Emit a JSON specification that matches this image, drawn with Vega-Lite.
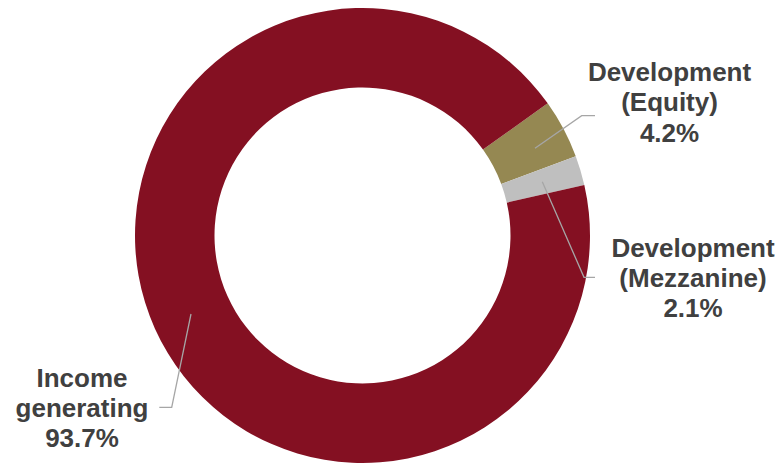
{
  "$schema": "https://vega.github.io/schema/vega-lite/v6.json",
  "width": 780,
  "height": 464,
  "padding": 0,
  "autosize": {"type": "fit", "contains": "padding"},
  "background": "white",
  "config": {"view": {"stroke": null}},
  "datasets": {
    "slices": [
      {"segment": "Development (Equity)", "share": 4.2, "o": 1},
      {"segment": "Development (Mezzanine)", "share": 2.1, "o": 2},
      {"segment": "Income generating", "share": 93.7, "o": 3}
    ],
    "leaders": [
      {"segment": "Equity", "step": 1, "lx": 172.5, "ly": 87.2},
      {"segment": "Equity", "step": 2, "lx": 219.2, "ly": 119.8},
      {"segment": "Equity", "step": 3, "lx": 232.5, "ly": 119.8},
      {"segment": "Mezzanine", "step": 1, "lx": 179.8, "ly": 53.8},
      {"segment": "Mezzanine", "step": 2, "lx": 221.5, "ly": -41.8},
      {"segment": "Mezzanine", "step": 3, "lx": 232.5, "ly": -41.8},
      {"segment": "Income", "step": 1, "lx": -171.5, "ly": -78.5},
      {"segment": "Income", "step": 2, "lx": -190.8, "ly": -171.8},
      {"segment": "Income", "step": 3, "lx": -203.2, "ly": -171.8}
    ],
    "labels": [
      {"line": "Development", "tx": 307, "ty": 154.8},
      {"line": "(Equity)", "tx": 307, "ty": 124.3},
      {"line": "4.2%", "tx": 307, "ty": 93.8},
      {"line": "Development", "tx": 330.5, "ty": -21.2},
      {"line": "(Mezzanine)", "tx": 330.5, "ty": -51.2},
      {"line": "2.1%", "tx": 330.5, "ty": -81.2},
      {"line": "Income", "tx": -280.5, "ty": -151.2},
      {"line": "generating", "tx": -280.5, "ty": -181.2},
      {"line": "93.7%", "tx": -280.5, "ty": -211.2}
    ]
  },
  "layer": [
    {
      "data": {"name": "slices"},
      "mark": {"type": "arc", "outerRadius": 227.5, "innerRadius": 148},
      "encoding": {
        "theta": {"field": "share", "type": "quantitative", "stack": true, "scale": {"range": [0.951, 7.2342]}},
        "order": {"field": "o", "type": "quantitative"},
        "color": {
          "field": "segment",
          "type": "nominal",
          "scale": {
            "domain": ["Development (Equity)", "Development (Mezzanine)", "Income generating"],
            "range": ["#958852", "#BFBFBF", "#841022"]
          },
          "legend": null
        },
        "x": {"datum": 0, "type": "quantitative", "scale": {"domain": [-362.5, 417.5], "nice": false, "zero": false}, "axis": null},
        "y": {"datum": 0, "type": "quantitative", "scale": {"domain": [-228.5, 235.5], "nice": false, "zero": false}, "axis": null}
      }
    },
    {
      "data": {"name": "leaders"},
      "mark": {"type": "line", "stroke": "#A6A6A6", "strokeWidth": 1.3},
      "encoding": {
        "x": {"field": "lx", "type": "quantitative"},
        "y": {"field": "ly", "type": "quantitative"},
        "detail": {"field": "segment"},
        "order": {"field": "step", "type": "quantitative"}
      }
    },
    {
      "data": {"name": "labels"},
      "mark": {"type": "text", "font": "Liberation Sans", "fontWeight": "bold", "fontSize": 26, "color": "#404040", "align": "center", "baseline": "alphabetic"},
      "encoding": {
        "x": {"field": "tx", "type": "quantitative"},
        "y": {"field": "ty", "type": "quantitative"},
        "text": {"field": "line"}
      }
    }
  ],
  "resolve": {"scale": {"x": "shared", "y": "shared"}}
}
